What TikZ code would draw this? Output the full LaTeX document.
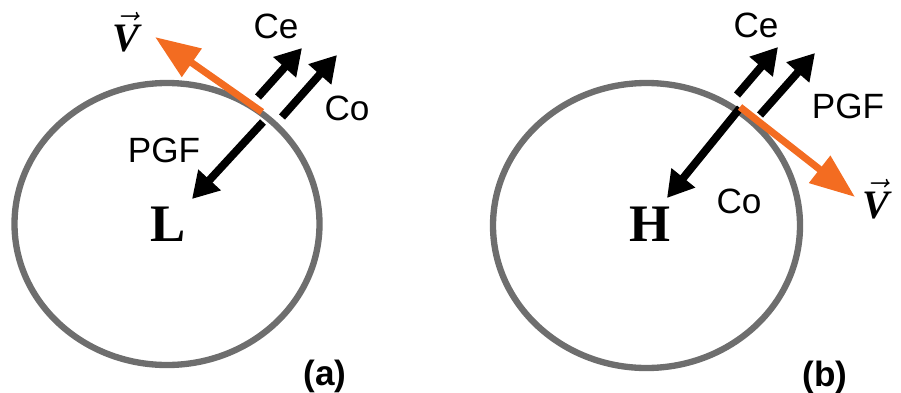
\documentclass[tikz,border=0pt]{standalone}
\usepackage{fontspec}
\setmainfont{Liberation Serif}
\setsansfont{Liberation Sans}
\usepackage{tikz}
\usetikzlibrary{arrows.meta}
\definecolor{ringgray}{HTML}{6E6E6E}
\definecolor{windorange}{HTML}{F36C21}
\tikzset{
  ring/.style={draw=ringgray, line width=3.6pt},
  force/.style={-{Triangle[length=0.52cm, width=0.58cm]}, line width=4.5pt, black},
  wind/.style={-{Triangle[length=0.9cm, width=0.66cm]}, line width=4pt, windorange},
  forcetxt/.style={inner sep=0pt, font=\sffamily\fontsize{20}{22}\selectfont},
  centertxt/.style={inner sep=0pt, font=\rmfamily\bfseries\fontsize{30}{32}\selectfont},
  veltxt/.style={inner sep=0pt, font=\rmfamily\fontsize{23}{25}\selectfont},
  paneltxt/.style={inner sep=0pt, font=\sffamily\bfseries\fontsize{20}{22}\selectfont}
}

\begin{document}
\begin{tikzpicture}[x=0.02cm, y=-0.02cm]
\useasboundingbox (0,0) rectangle (901,392);

% ===== RINGS =====
\draw[ring] (167,224) ellipse [x radius=152.5, y radius=141];
\draw[ring] (646.5,225.5) ellipse [x radius=153.5, y radius=142.5];

% ===== PANEL (a): LOW =====
\node[centertxt] (L)   at (168,224) {L};
\node[forcetxt]  (CeA) at (276,26)  {Ce};
\node[forcetxt]  (CoA) at (347,108) {Co};
\node[forcetxt]  (PgA) at (164,150) {PGF};
\node[veltxt]    (VA)  at (127,32)  {$\vec{\textbf{\textit{V}}}$};
\node[paneltxt]  (PA)  at (325,376) {(a)};

\coordinate (aV0) at (262,112);  \coordinate (aV1) at (155,37);
\coordinate (aE0) at (258,97);   \coordinate (aE1) at (302,48);
\coordinate (aO0) at (282,117);  \coordinate (aO1) at (337,55);
\coordinate (aP0) at (263,122);  \coordinate (aP1) at (192,199);

\draw[wind]  (aV0) -- (aV1);
\draw[force] (aE0) -- (aE1);
\draw[force] (aO0) -- (aO1);
\draw[force] (aP0) -- (aP1);

% ===== PANEL (b): HIGH =====
\node[centertxt] (H)   at (650,224) {H};
\node[forcetxt]  (CeB) at (756,25)  {Ce};
\node[forcetxt]  (PgB) at (848,106) {PGF};
\node[forcetxt]  (CoB) at (739,201) {Co};
\node[veltxt]    (VB)  at (877,199) {$\vec{\textbf{\textit{V}}}$};
\node[paneltxt]  (PB)  at (825,377) {(b)};

\coordinate (bV0) at (740,107);  \coordinate (bV1) at (855,197);
\coordinate (bE0) at (737,95);   \coordinate (bE1) at (778,47);
\coordinate (bP0) at (760,115);  \coordinate (bP1) at (815,53);
\coordinate (bO0) at (740,108);  \coordinate (bO1) at (667,198);

\draw[force] (bE0) -- (bE1);
\draw[force] (bP0) -- (bP1);
\draw[force] (bO0) -- (bO1);
\draw[wind]  (bV0) -- (bV1);

\end{tikzpicture}
\end{document}
